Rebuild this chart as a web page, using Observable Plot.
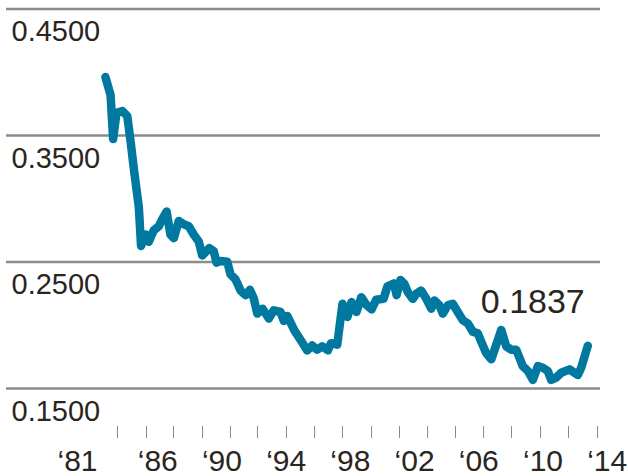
<!DOCTYPE html>
<html><head><meta charset="utf-8">
<script src="https://cdn.jsdelivr.net/npm/d3@7"></script>
<script src="https://cdn.jsdelivr.net/npm/@observablehq/plot@0.6"></script>
<style>body{margin:0;background:#fff}</style>
</head><body><div id="chart"></div>
<script>
const years = [1982.74,1983.06,1983.22,1983.43,1983.79,1984.10,1984.30,1984.51,1984.82,1984.96,
1985.24,1985.44,1985.75,1986.07,1986.28,1986.55,1986.79,1987.00,1987.31,1987.62,
1987.93,1988.25,1988.56,1988.77,1989.22,1989.49,1989.66,1989.91,1990.33,1990.53,
1990.84,1991.16,1991.47,1991.74,1991.98,1992.20,1992.53,1992.92,1993.23,1993.65,
1993.85,1994.07,1994.52,1995.00,1995.31,1995.62,1995.93,1996.25,1996.60,1996.79,
1997.18,1997.51,1997.82,1998.07,1998.38,1998.68,1999.01,1999.32,1999.60,2000.07,
2000.31,2000.72,2000.88,2001.12,2001.37,2001.58,2001.89,2002.10,2002.41,2002.73,
2003.04,2003.24,2003.55,2003.76,2004.07,2004.38,2004.69,2005.01,2005.32,2005.63,
2005.94,2006.15,2006.46,2006.78,2007.09,2007.40,2007.71,2008.02,2008.33,2008.54,
2008.74,2009.06,2009.37,2009.68,2009.99,2010.30,2010.51,2010.82,2011.14,2011.65,
2012.17,2012.38,2012.79];
const values = [0.3962,0.3820,0.3472,0.3680,0.3693,0.3654,0.3461,0.3238,0.2935,0.2626,
0.2717,0.2660,0.2750,0.2783,0.2839,0.2899,0.2717,0.2688,0.2825,0.2798,
0.2783,0.2715,0.2660,0.2552,0.2610,0.2585,0.2495,0.2508,0.2502,0.2403,
0.2364,0.2274,0.2238,0.2280,0.2214,0.2092,0.2131,0.2053,0.2118,0.2105,
0.2035,0.2074,0.1957,0.1864,0.1801,0.1840,0.1807,0.1833,0.1801,0.1858,
0.1846,0.2170,0.2066,0.2183,0.2105,0.2222,0.2160,0.2125,0.2202,0.2209,
0.2308,0.2331,0.2238,0.2358,0.2326,0.2261,0.2209,0.2248,0.2274,0.2209,
0.2131,0.2196,0.2157,0.2092,0.2157,0.2170,0.2105,0.2040,0.2014,0.1949,
0.1936,0.1871,0.1780,0.1731,0.1846,0.1963,0.1833,0.1807,0.1807,0.1741,
0.1677,0.1638,0.1568,0.1677,0.1664,0.1638,0.1568,0.1586,0.1625,0.1651,
0.1607,0.1664,0.1837];
const yTickValues = [0.15, 0.25, 0.35, 0.45];
const yTickLabels = ["0.1500", "0.2500", "0.3500", "0.4500"];
const xLabelYears = [1981, 1986, 1990, 1994, 1998, 2002, 2006, 2010, 2014];
const xLabelTexts = ["\u201881", "\u201886", "\u201890", "\u201894", "\u201898", "\u201802", "\u201806", "\u201810", "\u201814"];
const xTickYears = [1983.49,1985.30,1986.98,1988.79,1990.53,1992.21,1994.02,1995.77,1997.51,1999.32,2001.06,2002.81,2004.55,2006.30,2008.04,2009.85,2011.59,2013.40];
const lastLabel = "0.1837";

const data = years.map((year, i) => ({year, value: values[i]}));
const last = data[data.length - 1];
const ink = "#2b2520";

const chart = Plot.plot({
  width: 628,
  height: 476,
  marginLeft: 6,
  marginRight: 28,
  marginTop: 8,
  marginBottom: 88,
  style: {fontFamily: "'Liberation Sans', Arial, sans-serif", background: "#fff"},
  x: {domain: [1981, 2014], range: [77, 606.7], axis: null},
  y: {domain: [0.15, 0.45], range: [388, 8.5], axis: null},
  marks: [
    Plot.ruleY(yTickValues, {y: d => d, stroke: "#8e8c89", strokeWidth: 2.4}),
    Plot.text(yTickValues, {y: d => d, text: (d, i) => yTickLabels[i], frameAnchor: "left", textAnchor: "start", lineAnchor: "bottom", dx: 5, dy: 32, fontSize: 29, fill: ink}),
    Plot.ruleX(xTickYears, {x: d => d, stroke: "#8a8a8a", strokeWidth: 1, insetTop: 368, dy: 50}),
    Plot.text(xLabelYears, {x: d => d, text: (d, i) => xLabelTexts[i], frameAnchor: "bottom", lineAnchor: "bottom", dy: 82, fontSize: 30, fill: ink}),
    Plot.line(data, {x: "year", y: "value", stroke: "#00789f", strokeWidth: 8.5, strokeLinejoin: "round", strokeLinecap: "round"}),
    Plot.text([last], {x: "year", y: "value", text: () => lastLabel, textAnchor: "end", lineAnchor: "bottom", dx: -3, dy: -33, fontSize: 34, fill: ink})
  ]
});
document.getElementById("chart").appendChild(chart);
</script>
</body></html>
